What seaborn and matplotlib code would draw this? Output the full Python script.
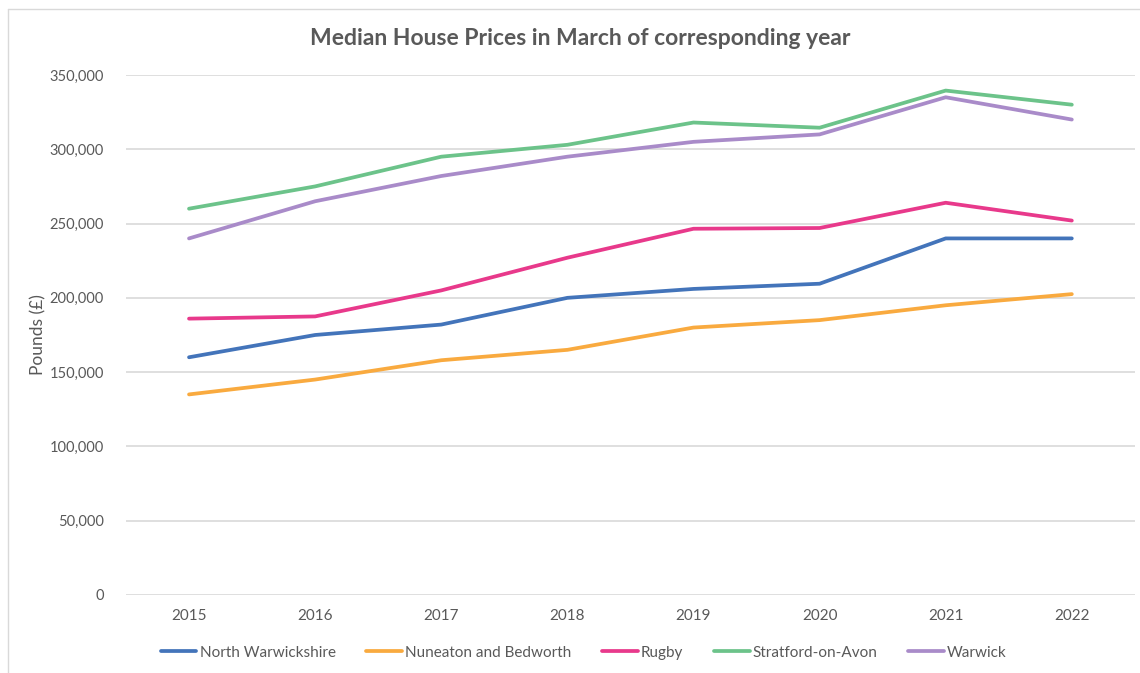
import matplotlib.pyplot as plt
import matplotlib.ticker as mticker
from matplotlib.lines import Line2D
import pandas as pd
import seaborn as sns

years = [2015, 2016, 2017, 2018, 2019, 2020, 2021, 2022]
north_warwickshire = [160000, 175000, 182000, 200000, 206000, 209500, 240000, 240000]
nuneaton_bedworth = [135000, 145000, 158000, 165000, 180000, 185000, 195000, 202500]
rugby = [186000, 187500, 205000, 227000, 246500, 247000, 264000, 252000]
stratford = [260000, 275000, 295000, 303000, 318000, 314500, 339500, 330000]
warwick = [240000, 265000, 282000, 295000, 305000, 310000, 335000, 320000]

areas = ["North Warwickshire", "Nuneaton and Bedworth", "Rugby",
         "Stratford-on-Avon", "Warwick"]
colours = ["#4374BA", "#F9AA3F", "#E8398B", "#6CC38A", "#A98BC9"]

df = pd.DataFrame({"year": years * 5,
                   "price": north_warwickshire + nuneaton_bedworth + rugby + stratford + warwick,
                   "area": [a for a in areas for _ in years]})

sns.set_theme(style="whitegrid")
plt.rcParams['font.family'] = ['Lato', 'DejaVu Sans']

fig = plt.figure(figsize=(11.4, 6.73), dpi=100)
ax = fig.add_axes([0.1105, 0.1159, 0.885, 0.7727])

sns.lineplot(data=df, x="year", y="price", hue="area", palette=colours,
             linewidth=2.7, ax=ax, legend=False, solid_capstyle="round")

ax.set_xlim(2014.5, 2022.5)
ax.set_ylim(0, 350000)
ax.set_xticks(years)
ax.set_yticks(range(0, 350001, 50000))
ax.yaxis.set_major_formatter(mticker.FuncFormatter(lambda v, p: f"{int(v):,}"))
ax.grid(axis="x", visible=False)
ax.grid(axis="y", color="#d9d9d9", linewidth=1.2)
for s in ax.spines.values():
    s.set_visible(False)
ax.tick_params(axis="both", colors="#595959", labelsize=11, length=0)
ax.tick_params(axis="y", pad=16, labelsize=10.5)
ax.tick_params(axis="x", pad=10)
ax.set_xlabel("")
ax.set_ylabel("Pounds (£)", color="#595959", fontsize=12.5)
ax.yaxis.set_label_coords(-0.079, 0.5)
ax.set_facecolor("white")

fig.text(0.509, 0.943, "Median House Prices in March of corresponding year",
         ha="center", va="center", fontsize=16.5, fontweight="bold", color="#595959")

handles = [Line2D([0], [0], color=c, linewidth=2.7) for c in colours]
fig.legend(handles, areas, loc="center", bbox_to_anchor=(0.512, 0.03), ncol=5,
           frameon=False, fontsize=11, handlelength=2.35, handletextpad=0.2,
           columnspacing=2.0, labelcolor="#595959")

# partial border of the original chart box
fig.add_artist(Line2D([0.007, 0.007], [0, 0.986], color="#d9d9d9", linewidth=1))
fig.add_artist(Line2D([0.007, 1], [0.986, 0.986], color="#d9d9d9", linewidth=1))

fig.savefig("out.png", dpi=100)
